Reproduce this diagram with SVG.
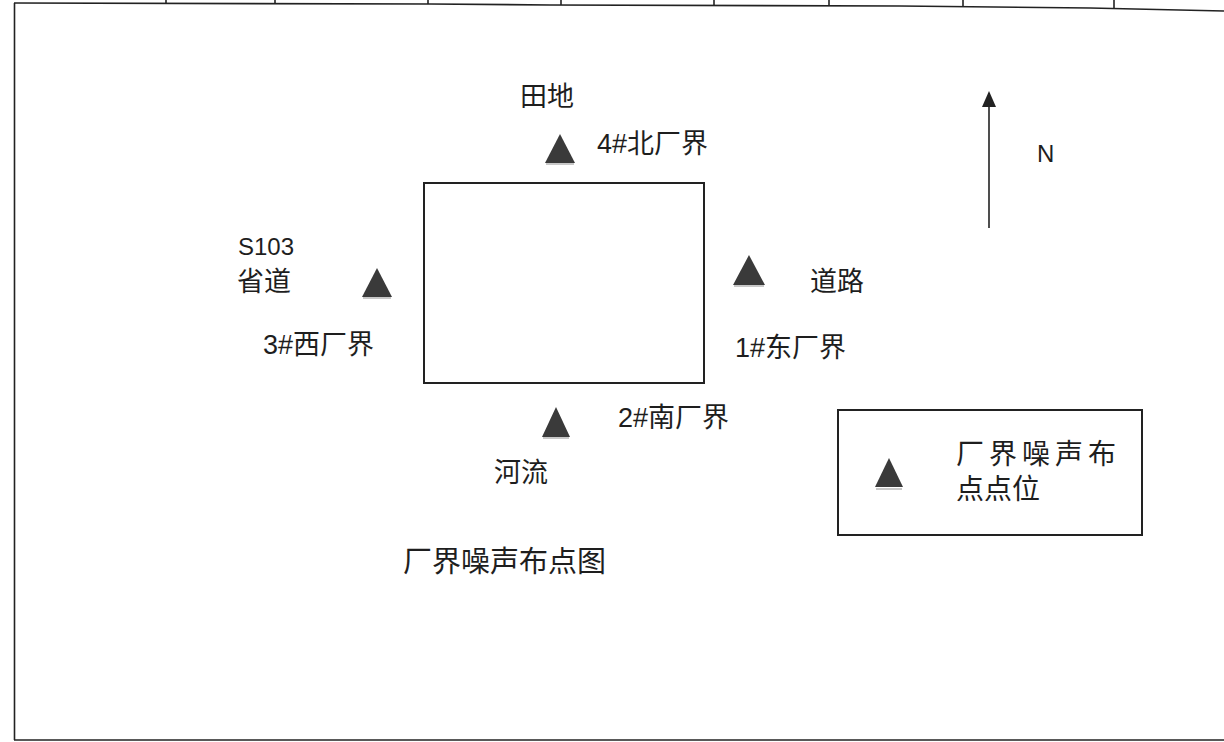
<svg xmlns="http://www.w3.org/2000/svg" width="1224" height="742" viewBox="0 0 1224 742">
<defs>
<style>
.t{font-family:"Liberation Sans","Noto Sans CJK SC",sans-serif;font-size:27px;fill:#1e1e1e}
.frame{fill:none;stroke:#222;stroke-width:1.6}
.box{fill:none;stroke:#222;stroke-width:2}
.tri{fill:#3a3a3a}
.sh{fill:none;stroke:#c8c8c8;stroke-width:2}
</style>
<marker id="ah" viewBox="0 0 16 14" markerWidth="16" markerHeight="14" refX="14" refY="7" orient="auto" markerUnits="userSpaceOnUse">
<path d="M0,0 L16,7 L0,14 Z" fill="#222"/>
</marker>
</defs>
<rect width="1224" height="742" fill="#fff"/>
<g id="frame">
<polyline class="frame" points="14,3 430,4 550,5 900,6 1090,8 1224,11"/>
<line class="frame" x1="14.5" y1="3" x2="14.5" y2="740"/>
<line class="frame" x1="14" y1="740" x2="1224" y2="740"/>
<line class="frame" x1="166" y1="0" x2="166" y2="4"/>
<line class="frame" x1="275" y1="0" x2="275" y2="4"/>
<line class="frame" x1="428" y1="0" x2="428" y2="4"/>
<line class="frame" x1="561" y1="0" x2="561" y2="5"/>
<line class="frame" x1="714" y1="0" x2="714" y2="6"/>
<line class="frame" x1="829" y1="0" x2="829" y2="6"/>
<line class="frame" x1="963" y1="0" x2="963" y2="7"/>
<line class="frame" x1="1114" y1="0" x2="1114" y2="9"/>
</g>
<g id="plant">
<rect class="box" x="424" y="183" width="280" height="200"/>
</g>
<g id="point-4-north">
<line class="sh" x1="546" y1="164" x2="574" y2="164"/>
<polygon class="tri" points="560,134 545,163 575,163"/>
<text class="t" x="597" y="153">4#北厂界</text>
</g>
<g id="label-field">
<text class="t" x="520" y="106">田地</text>
</g>
<g id="point-3-west">
<line class="sh" x1="363" y1="298" x2="391" y2="298"/>
<polygon class="tri" points="377,268 362,297 392,297"/>
<text class="t" x="263" y="354">3#西厂界</text>
</g>
<g id="label-road-s103">
<text class="t" x="238" y="255" style="font-size:24px">S103</text>
<text class="t" x="237" y="291">省道</text>
</g>
<g id="point-1-east">
<line class="sh" x1="734" y1="286" x2="764" y2="286"/>
<polygon class="tri" points="749,255 733,285 765,285"/>
<text class="t" x="735" y="357">1#东厂界</text>
</g>
<g id="label-road">
<text class="t" x="810" y="291">道路</text>
</g>
<g id="point-2-south">
<line class="sh" x1="543" y1="438" x2="569" y2="438"/>
<polygon class="tri" points="556,407 542,437 570,437"/>
<text class="t" x="618" y="427">2#南厂界</text>
</g>
<g id="label-river">
<text class="t" x="494" y="482">河流</text>
</g>
<g id="caption">
<text class="t" x="403" y="572" style="font-size:29px">厂界噪声布点图</text>
</g>
<g id="north-arrow">
<line x1="989" y1="228" x2="989" y2="93" stroke="#222" stroke-width="1.6" marker-end="url(#ah)"/>
<text class="t" x="1037" y="162" style="font-size:24px">N</text>
</g>
<g id="legend">
<rect class="box" x="838" y="410" width="304" height="125"/>
<line class="sh" x1="876" y1="489" x2="902" y2="489"/>
<polygon class="tri" points="889,458 875,487 903,487"/>
<text class="t" x="956" y="464" style="font-size:28px;letter-spacing:5px">厂界噪声布</text>
<text class="t" x="956" y="499" style="font-size:28px">点点位</text>
</g>
</svg>
